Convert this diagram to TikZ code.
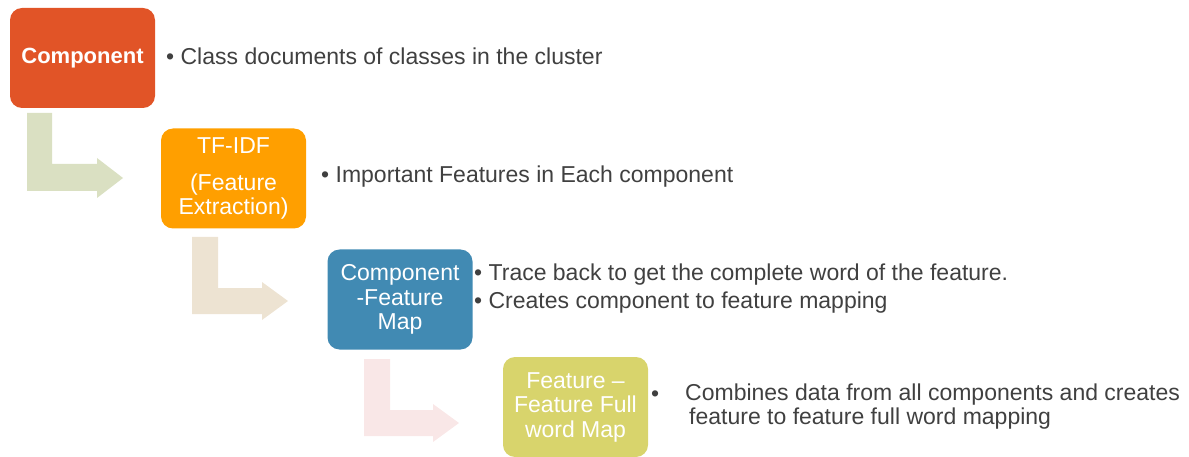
\documentclass[tikz,border=0pt]{standalone}
\usepackage{fontspec}
\setmainfont{Liberation Sans}
\usetikzlibrary{positioning}
\definecolor{StepRed}{HTML}{E15427}
\definecolor{StepOrange}{HTML}{FF9F00}
\definecolor{StepBlue}{HTML}{418AB3}
\definecolor{StepOlive}{HTML}{D8D46C}
\definecolor{ArrowGreen}{HTML}{DAE0C2}
\definecolor{ArrowSand}{HTML}{EDE3D2}
\definecolor{ArrowPink}{HTML}{F9E7E7}
\definecolor{NoteGray}{HTML}{404040}
\tikzset{
  stepbox/.style={rounded corners=12pt,minimum width=145pt,minimum height=100pt,
    text=white,align=center,inner sep=2pt,font=\fontsize{23}{24.5}\selectfont},
  note/.style={anchor=base west,inner sep=0pt,text=NoteGray,
    font=\fontsize{23}{28}\selectfont,align=left}
}

\begin{document}
\begin{tikzpicture}[x=1pt,y=-1pt]
  \useasboundingbox (0,0) rectangle (1189,457);
  % bent arrows between the steps
  \fill[ArrowGreen] (27,113)--(52,113)--(52,164)--(97,164)--(97,158)--(123,178)
    --(97,198)--(97,191)--(27,191)--cycle;
  \fill[ArrowSand] (192,237)--(218,237)--(218,288)--(262,288)--(262,282)--(288,301)
    --(262,320)--(262,314)--(192,314)--cycle;
  \fill[ArrowPink] (364,359)--(390,359)--(390,410)--(433,410)--(433,404)--(459,423)
    --(433,442)--(433,436)--(364,436)--cycle;
  % steps
  \node[stepbox,fill=StepRed,font=\fontsize{22}{24}\selectfont\bfseries] (comp) at (82.5,58) {Component};
  \node[stepbox,fill=StepOrange] (tfidf) at (233.5,178.5) {TF-IDF\\[12pt](Feature\\Extraction)};
  \node[stepbox,fill=StepBlue] (cfmap) at (400,299.5) {Component\\-Feature\\Map};
  \node[stepbox,fill=StepOlive] (ffmap) at (575.5,407) {Feature --\\Feature Full\\word Map};
  % notes
  \node[note] (compnote) at (166,65) {\textbullet\ Class documents of classes in the cluster};
  \node[note] (tfidfnote) at (321,183) {\textbullet\ Important Features in Each component};
  \node[note] (cfnote1) at (474,280) {\textbullet\ Trace back to get the complete word of the feature.};
  \node[note] (cfnote2) at (474,308) {\textbullet\ Creates component to feature mapping};
  \node[note] (ffbullet) at (651,401) {\textbullet};
  \node[note,font=\fontsize{23}{23.5}\selectfont] (ffnote) at (685,424)
    {Combines data from all components and creates\\\hspace*{4pt}feature to feature full word mapping};
\end{tikzpicture}
\end{document}
